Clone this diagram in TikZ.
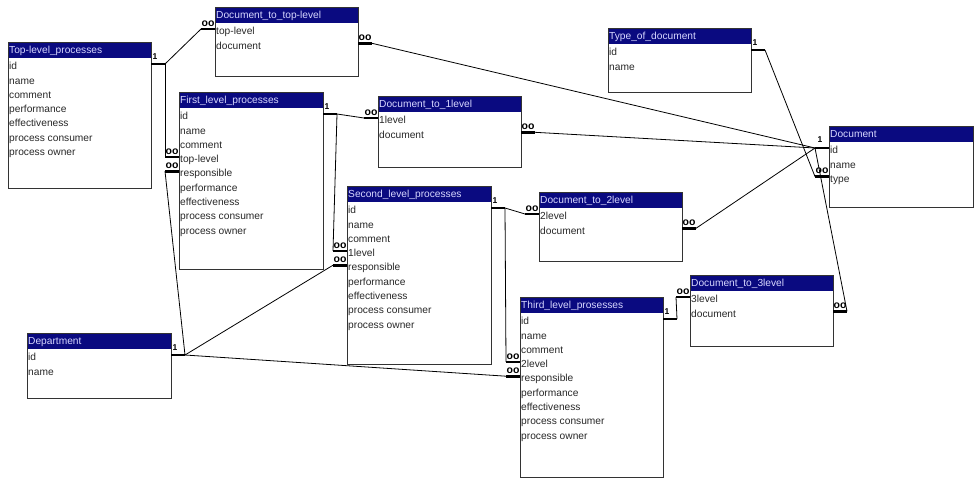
\documentclass[tikz,border=0pt]{standalone}
\usepackage{fontspec}
\setmainfont{Liberation Sans}
\usetikzlibrary{calc}
\definecolor{ttlbg}{RGB}{10,10,128}
\definecolor{ttlfg}{RGB}{215,215,255}
\definecolor{rowfg}{RGB}{40,40,40}
\tikzset{
  tblbox/.style={draw=black!80, line width=0.9pt, fill=white, inner sep=0pt, outer sep=0pt},
  ttltxt/.style={text=ttlfg, font=\fontsize{10.2}{12}\selectfont, inner sep=0pt, anchor=base west},
  rowtxt/.style={text=rowfg, font=\fontsize{10.2}{12}\selectfont, inner sep=0pt, anchor=base west},
  stubline/.style={line width=2.6pt, black},
  conn/.style={line width=0.8pt, black},
  onelbl/.style={font=\bfseries\fontsize{8.5}{9}\selectfont, inner sep=0pt},
  manylbl/.style={font=\bfseries\fontsize{10.5}{11}\selectfont, inner sep=0pt},
  oneR/.style={onelbl, xshift=4pt, yshift=7pt},
  oneL/.style={onelbl, xshift=-9pt, yshift=8pt},
  manyR/.style={manylbl, xshift=7pt, yshift=5.5pt},
  manyL/.style={manylbl, xshift=-7pt, yshift=5.5pt},
}
\newcommand\erTable[7]{%
  \node[tblbox, minimum width=#4pt, minimum height=#5pt, anchor=north west] (#1) at (#2,#3) {};
  \fill[ttlbg] (#2,#3) rectangle ({#2+#4},{#3+16});
  \draw[draw=black!80, line width=0.9pt] (#1.north west) rectangle (#1.south east);
  \node[ttltxt] (#1-title) at ({#2+1},{#3+11.8}) {#6};
  \foreach \rw [count=\ri] in {#7} {
    \coordinate (#1-\ri) at (#2,{#3+24+14.3*(\ri-1)});
    \node[rowtxt] (#1-txt\ri) at ({#2+1},{#3+24+14.3*(\ri-1)+3.7}) {\rw};
  }
}
\newcommand\stubR[5]{%
  \coordinate (#1) at ($(#2.east |- #2-#3)+(14,-2)$);
  \draw[stubline] (#2.east |- #1) -- (#1);
  \node[#4] (#1-lbl) at (#2.east |- #1) {#5};
}
\newcommand\stubL[5]{%
  \coordinate (#1) at ($(#2.west |- #2-#3)+(-14,-2)$);
  \draw[stubline] (#2.west |- #1) -- (#1);
  \node[#4] (#1-lbl) at (#2.west |- #1) {#5};
}
\begin{document}
\begin{tikzpicture}[x=1pt,y=-1pt]
\fill[white] (0,0) rectangle (977,491);
\useasboundingbox (0,0) rectangle (977,491);

\erTable{tp}{8}{42}{143}{146}{Top-level\_processes}{id,name,comment,performance,effectiveness,process consumer,process owner}
\erTable{dtt}{215}{7}{143}{69}{Document\_to\_top-level}{top-level,document}
\erTable{fl}{179}{92}{144}{177}{First\_level\_processes}{id,name,comment,top-level,responsible,performance,effectiveness,process consumer,process owner}
\erTable{d1}{378}{96}{143}{71}{Document\_to\_1level}{1level,document}
\erTable{sl}{347}{186}{144}{178}{Second\_level\_processes}{id,name,comment,1level,responsible,performance,effectiveness,process consumer,process owner}
\erTable{d2}{539}{192}{143}{69}{Document\_to\_2level}{2level,document}
\erTable{tl}{520}{297}{143}{180}{Third\_level\_prosesses}{id,name,comment,2level,responsible,performance,effectiveness,process consumer,process owner}
\erTable{d3}{690}{275}{143}{71}{Document\_to\_3level}{3level,document}
\erTable{ty}{608}{28}{143}{64}{Type\_of\_document}{id,name}
\erTable{doc}{829}{126}{144}{81}{Document}{id,name,type}
\erTable{dep}{27}{333}{144}{65}{Department}{id,name}

\stubR{tpid}{tp}{1}{oneR}{1}
\stubL{dttl}{dtt}{1}{manyL}{oo}
\stubL{fltl}{fl}{4}{manyL}{oo}
\stubL{flrs}{fl}{5}{manyL}{oo}
\stubR{depid}{dep}{1}{oneR}{1}
\stubL{slrs}{sl}{5}{manyL}{oo}
\stubL{tlrs}{tl}{5}{manyL}{oo}
\stubR{flid}{fl}{1}{oneR}{1}
\stubL{dil}{d1}{1}{manyL}{oo}
\stubL{slil}{sl}{4}{manyL}{oo}
\stubR{slid}{sl}{1}{oneR}{1}
\stubL{diil}{d2}{1}{manyL}{oo}
\stubL{tliil}{tl}{4}{manyL}{oo}
\stubR{tlid}{tl}{1}{oneR}{1}
\stubL{diiil}{d3}{1}{manyL}{oo}
\stubR{dttd}{dtt}{2}{manyR}{oo}
\stubR{did}{d1}{2}{manyR}{oo}
\stubR{diid}{d2}{2}{manyR}{oo}
\stubR{diiid}{d3}{2}{manyR}{oo}
\stubL{docid}{doc}{1}{oneL}{1}
\stubL{doctp}{doc}{3}{manyL}{oo}
\stubR{tyid}{ty}{1}{oneR}{1}

\draw[conn] (tpid) -- (dttl);
\draw[conn] (tpid) -- (fltl);
\draw[conn] (depid) -- (flrs);
\draw[conn] (depid) -- (slrs);
\draw[conn] (depid) -- (tlrs);
\draw[conn] (flid) -- (dil);
\draw[conn] (flid) -- (slil);
\draw[conn] (slid) -- (diil);
\draw[conn] (slid) -- (tliil);
\draw[conn] (tlid) -- (diiil);
\draw[conn] (dttd) -- (docid);
\draw[conn] (did) -- (docid);
\draw[conn] (diid) -- (docid);
\draw[conn] (diiid) -- (docid);
\draw[conn] (tyid) -- (doctp);
\end{tikzpicture}
\end{document}
